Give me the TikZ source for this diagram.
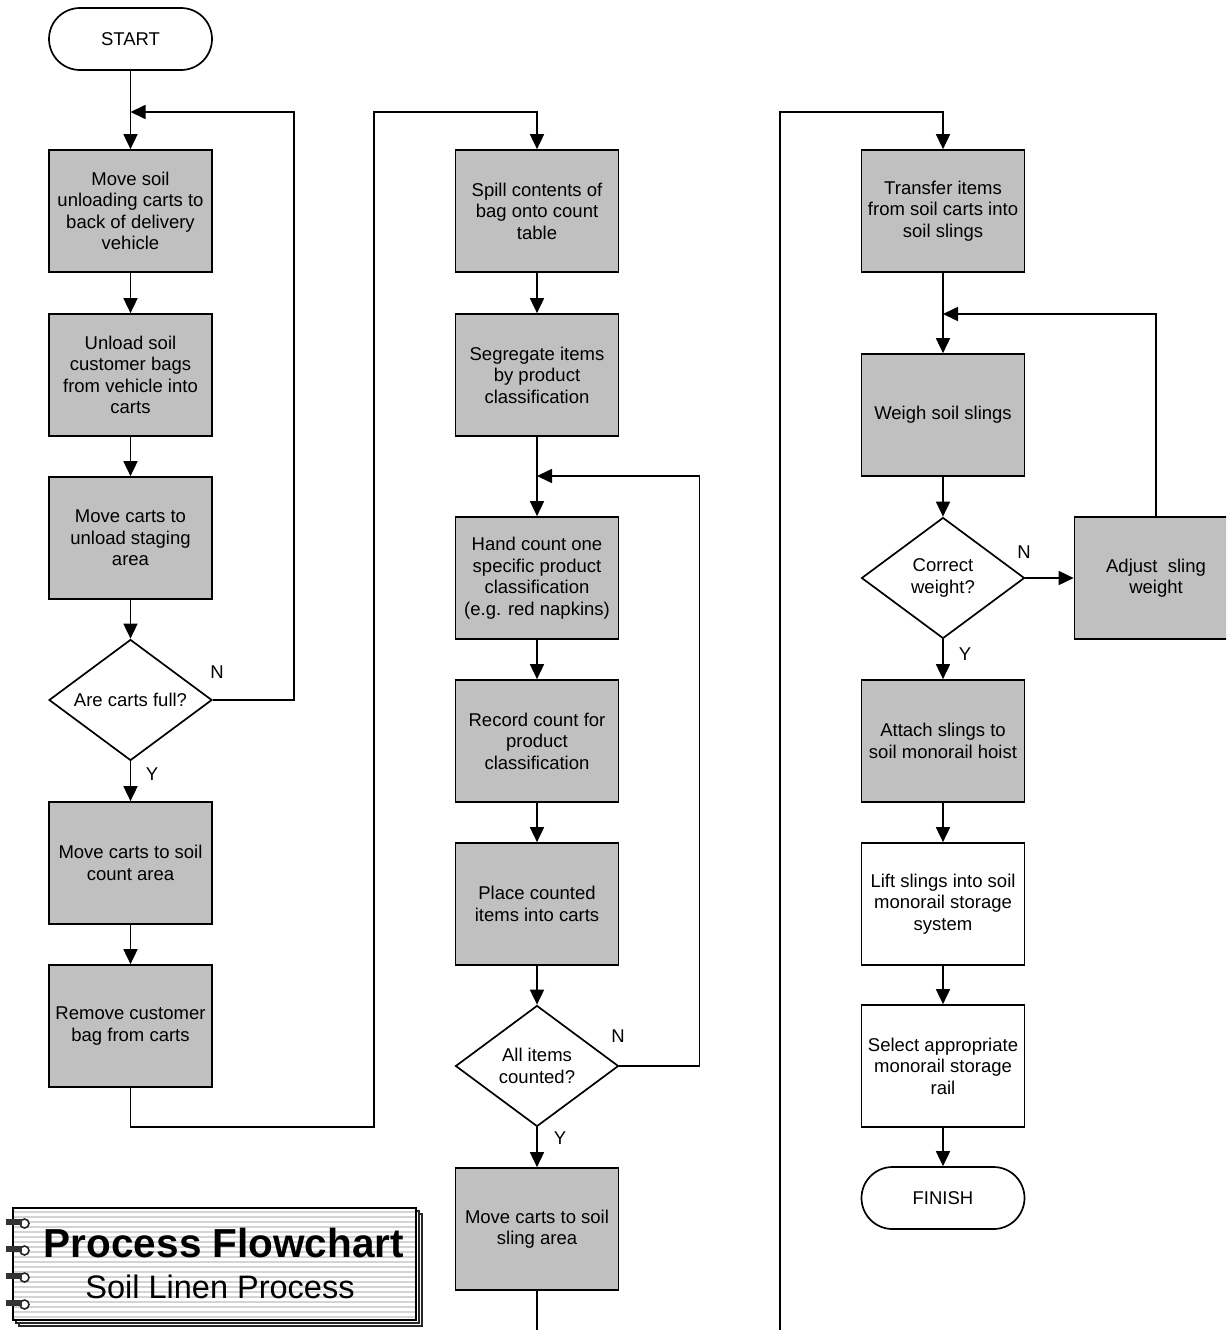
\documentclass[tikz,border=0pt]{standalone}
\usepackage{fontspec}
\setmainfont{Liberation Sans}
\usetikzlibrary{arrows.meta,shapes.geometric}
\definecolor{boxgray}{HTML}{C0C0C0}
\definecolor{stripegray}{HTML}{D4D4D4}
\tikzset{
  base/.style={line width=1.7pt, draw=black, inner sep=0pt, align=center,
    font=\fontsize{18.5}{21.5}\selectfont},
  procbox/.style={base, rectangle, fill=boxgray, minimum width=163pt, minimum height=122pt},
  whitebox/.style={base, rectangle, fill=white, minimum width=163pt, minimum height=122pt},
  termbox/.style={base, rectangle, rounded corners=31pt, minimum width=163pt, minimum height=62pt},
  decbox/.style={base, diamond, aspect=1.35, minimum width=163pt, minimum height=121pt},
  conn/.style={line width=1.7pt},
  arr/.style={conn, -{Triangle[length=15pt,width=14pt]}},
  yn/.style={font=\fontsize{18.5}{21.5}\selectfont, inner sep=0pt},
}
\begin{document}
\begin{tikzpicture}[x=1pt,y=-1pt]
\useasboundingbox (0,0) rectangle (1226,1330);
\clip (0,0) rectangle (1226,1330);

% column 1
\node[termbox] (start) at (130.5,39) {START};
\node[procbox] (b1) at (130.5,211) {Move soil\\unloading carts to\\back of delivery\\vehicle};
\node[procbox] (b2) at (130.5,375) {Unload soil\\customer bags\\from vehicle into\\carts};
\node[procbox] (b3) at (130.5,538) {Move carts to\\unload staging\\area};
\node[decbox] (d1) at (130.5,700) {Are carts full?};
\node[procbox] (b4) at (130.5,863) {Move carts to soil\\count area};
\node[procbox] (b5) at (130.5,1026) {Remove customer\\bag from carts};

% column 2
\node[procbox] (b6) at (537,211) {Spill contents of\\bag onto count\\table};
\node[procbox] (b7) at (537,375) {Segregate items\\by product\\classification};
\node[procbox] (b8) at (537,578) {Hand count one\\specific product\\classification\\(e.g. red napkins)};
\node[procbox] (b9) at (537,741) {Record count for\\product\\classification};
\node[procbox] (b10) at (537,904) {Place counted\\items into carts};
\node[decbox] (d2) at (537,1066) {All items\\counted?};
\node[procbox] (b11) at (537,1229) {Move carts to soil\\sling area};

% column 3
\node[procbox] (b12) at (943,211) {Transfer items\\from soil carts into\\soil slings};
\node[procbox] (b13) at (943,415) {Weigh soil slings};
\node[decbox] (d3) at (943,578) {Correct\\weight?};
\node[procbox] (b14) at (1156,578) {Adjust~ sling\\weight};
\node[procbox] (b15) at (943,741) {Attach slings to\\soil monorail hoist};
\node[whitebox] (b16) at (943,904) {Lift slings into soil\\monorail storage\\system};
\node[whitebox] (b17) at (943,1066) {Select appropriate\\monorail storage\\rail};
\node[termbox] (finish) at (943,1198) {FINISH};

% join points and free ends
\coordinate (j1) at (130.5,112);
\coordinate (j2) at (537,476);
\coordinate (j3) at (943,314);
\coordinate (c1) at (374,1127);
\coordinate (c2) at (374,112);
\coordinate (e1) at (537,1330);
\coordinate (e2) at (780,1330);
\coordinate (c3) at (780,112);

% connectors column 1
\draw[arr] (start) -- (b1);
\draw[arr] (b1) -- (b2);
\draw[arr] (b2) -- (b3);
\draw[arr] (b3) -- (d1);
\draw[arr] (d1) -- (b4);
\draw[arr] (b4) -- (b5);
\draw[arr] (d1.east) -- ++(81,0) |- (j1);
\draw[arr] (b5.south) |- (c1) -- (c2) -| (b6.north);

% connectors column 2
\draw[arr] (b6) -- (b7);
\draw[arr] (b7) -- (b8);
\draw[arr] (b8) -- (b9);
\draw[arr] (b9) -- (b10);
\draw[arr] (b10) -- (d2);
\draw[arr] (d2) -- (b11);
\draw[arr] (d2.east) -- ++(80,0) |- (j2);
\draw[conn] (b11.south) -- (e1);

% connectors column 3
\draw[arr] (e2) -- (c3) -| (b12.north);
\draw[arr] (b12) -- (b13);
\draw[arr] (b13) -- (d3);
\draw[arr] (d3) -- (b14);
\draw[arr] (b14.north) |- (j3);
\draw[arr] (d3) -- (b15);
\draw[arr] (b15) -- (b16);
\draw[arr] (b16) -- (b17);
\draw[arr] (b17) -- (finish);

% Y / N labels
\node[yn] (n1) at (217,672) {N};
\node[yn] (y1) at (152,774) {Y};
\node[yn] (n2) at (618,1036) {N};
\node[yn] (y2) at (560,1138) {Y};
\node[yn] (n3) at (1024,552) {N};
\node[yn] (y3) at (965,654) {Y};

% title block
\foreach \o in {6,3} {
  \draw[line width=1.3pt, fill=white, draw=black!85] (13+\o,1208+\o) rectangle (416+\o,1320+\o);
}
\draw[line width=1.5pt, fill=white] (13,1208) rectangle (416,1320);
\foreach \yy in {1212,1217,...,1318} {
  \draw[stripegray, line width=1.6pt] (14,\yy) -- (415,\yy);
}
\draw[line width=1.5pt] (13,1208) rectangle (416,1320);
\foreach \yy in {1222,1249,1276,1303} {
  \draw[line width=1.6pt, black!85, fill=white] (24.5,\yy+1.5) circle (4.5pt);
  \fill[black!80] (6,\yy-3.5) rectangle (22,\yy+3);
}
\node[inner sep=0pt, font=\bfseries\fontsize{40.5}{44}\selectfont] (t1) at (224,1243) {Process Flowchart};
\node[inner sep=0pt, font=\fontsize{32.5}{36}\selectfont] (t2) at (220,1287) {Soil Linen Process};
\end{tikzpicture}
\end{document}
